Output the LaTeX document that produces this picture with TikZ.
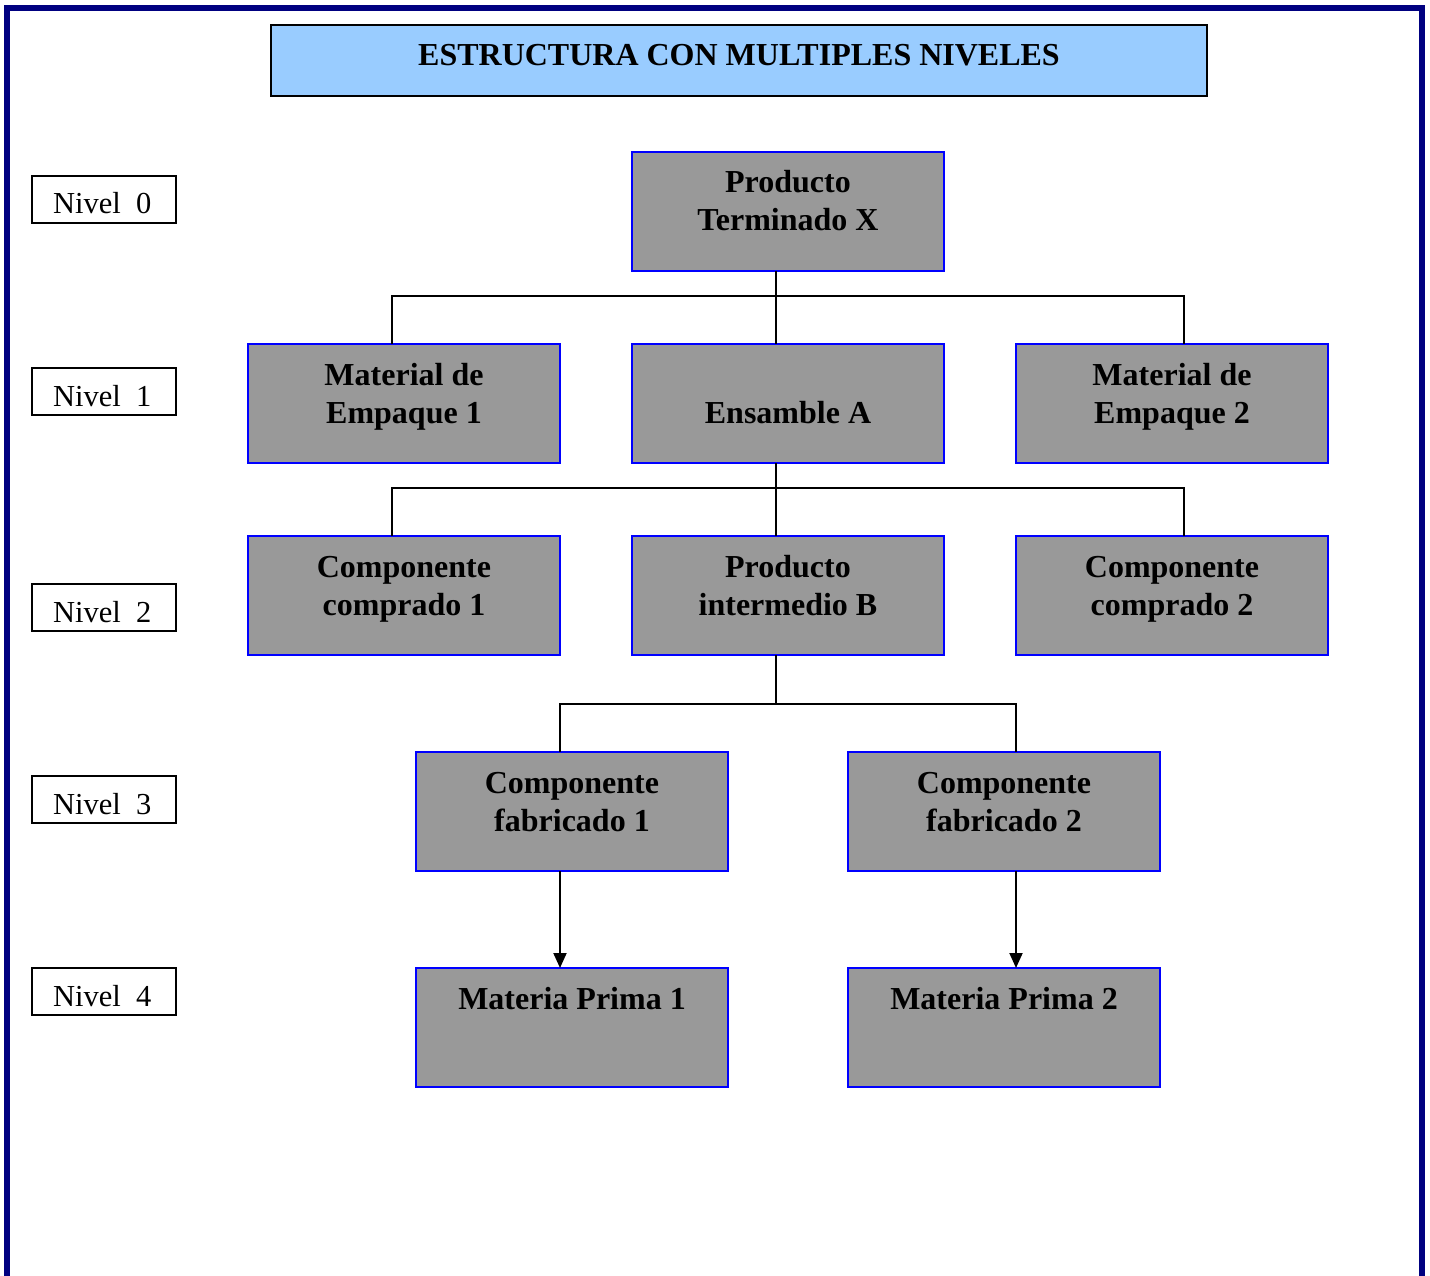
\documentclass[tikz,border=0pt]{standalone}
\usepackage{fontspec}
\setmainfont{Liberation Serif}
\usetikzlibrary{arrows.meta,calc}
\definecolor{framenavy}{RGB}{0,0,128}
\definecolor{boxgray}{RGB}{153,153,153}
\definecolor{titleblue}{RGB}{153,204,255}
\begin{document}
\begin{tikzpicture}[x=1pt,y=-1pt,
  item/.style={draw=blue, fill=boxgray, line width=2pt, minimum width=312pt, minimum height=119pt, inner sep=0pt, outer sep=0pt, anchor=north west},
  itemtext/.style={anchor=base, inner sep=0pt, font=\bfseries\fontsize{32}{38}\selectfont},
  link/.style={line width=2pt, draw=black},
  nivelbox/.style={draw=black, line width=2pt, minimum width=144pt, minimum height=47pt, inner sep=0pt, outer sep=0pt, anchor=north west},
  niveltext/.style={anchor=base west, inner sep=0pt, font=\fontsize{30.5}{36}\selectfont}]
\useasboundingbox (0,0) rectangle (1430,1276);
% frame
\draw[framenavy, line width=6pt] (7,1290) -- (7,8) -- (1422,8) -- (1422,1290);
% title
\node[draw=black, fill=titleblue, line width=2pt, minimum width=936pt, minimum height=71pt, inner sep=0pt, outer sep=0pt, anchor=north west] (titlebox) at (271,25) {};
\node[anchor=base, inner sep=0pt, font=\bfseries\fontsize{32}{38}\selectfont] (titletext) at (739,66) {ESTRUCTURA CON MULTIPLES NIVELES};
% nivel labels
\foreach \n/\y in {0/176,1/368,2/584,3/776,4/968}{
  \node[nivelbox] (niv\n) at (32,\y) {};
  \node[niveltext] (nivt\n) at (53,\y+38) {Nivel\ \ \n};
}
% boxes
\node[item] (p0) at (632,152) {};
\node[item] (mat1) at (248,344) {};
\node[item] (ens) at (632,344) {};
\node[item] (mat2) at (1016,344) {};
\node[item] (cc1) at (248,536) {};
\node[item] (pib) at (632,536) {};
\node[item] (cc2) at (1016,536) {};
\node[item] (cf1) at (416,752) {};
\node[item] (cf2) at (848,752) {};
\node[item] (mp1) at (416,968) {};
\node[item] (mp2) at (848,968) {};
% texts
\node[itemtext] (p0t) at ($(p0.north)+(0,41)$) {\begin{tabular}[t]{@{}c@{}}Producto\\Terminado X\end{tabular}};
\node[itemtext] (mat1t) at ($(mat1.north)+(0,41)$) {\begin{tabular}[t]{@{}c@{}}Material de\\Empaque 1\end{tabular}};
\node[itemtext] (enst) at ($(ens.north)+(0,79)$) {Ensamble A};
\node[itemtext] (mat2t) at ($(mat2.north)+(0,41)$) {\begin{tabular}[t]{@{}c@{}}Material de\\Empaque 2\end{tabular}};
\node[itemtext] (cc1t) at ($(cc1.north)+(0,41)$) {\begin{tabular}[t]{@{}c@{}}Componente\\comprado 1\end{tabular}};
\node[itemtext] (pibt) at ($(pib.north)+(0,41)$) {\begin{tabular}[t]{@{}c@{}}Producto\\intermedio B\end{tabular}};
\node[itemtext] (cc2t) at ($(cc2.north)+(0,41)$) {\begin{tabular}[t]{@{}c@{}}Componente\\comprado 2\end{tabular}};
\node[itemtext] (cf1t) at ($(cf1.north)+(0,41)$) {\begin{tabular}[t]{@{}c@{}}Componente\\fabricado 1\end{tabular}};
\node[itemtext] (cf2t) at ($(cf2.north)+(0,41)$) {\begin{tabular}[t]{@{}c@{}}Componente\\fabricado 2\end{tabular}};
\node[itemtext] (mp1t) at ($(mp1.north)+(0,41)$) {Materia Prima 1};
\node[itemtext] (mp2t) at ($(mp2.north)+(0,41)$) {Materia Prima 2};
% connectors level 0 -> 1
\coordinate (busa) at (0,296);
\draw[link] ([xshift=-12pt]p0.south) -- ([xshift=-12pt]ens.north);
\draw[link] ([xshift=-12pt]mat1.north) -- ([xshift=-12pt]mat1.north |- busa) -- ([xshift=12pt]mat2.north |- busa) -- ([xshift=12pt]mat2.north);
% level 1 -> 2
\coordinate (busb) at (0,488);
\draw[link] ([xshift=-12pt]ens.south) -- ([xshift=-12pt]pib.north);
\draw[link] ([xshift=-12pt]cc1.north) -- ([xshift=-12pt]cc1.north |- busb) -- ([xshift=12pt]cc2.north |- busb) -- ([xshift=12pt]cc2.north);
% level 2 -> 3
\coordinate (busc) at (0,704);
\draw[link] ([xshift=-12pt]pib.south) -- ([xshift=-12pt]pib.south |- busc);
\draw[link] ([xshift=-12pt]cf1.north) -- ([xshift=-12pt]cf1.north |- busc) -- ([xshift=12pt]cf2.north |- busc) -- ([xshift=12pt]cf2.north);
% level 3 -> 4
\draw[link, -{Triangle[length=15pt,width=13pt]}] ([xshift=-12pt]cf1.south) -- ([xshift=-12pt]mp1.north);
\draw[link, -{Triangle[length=15pt,width=13pt]}] ([xshift=12pt]cf2.south) -- ([xshift=12pt]mp2.north);
\end{tikzpicture}
\end{document}
